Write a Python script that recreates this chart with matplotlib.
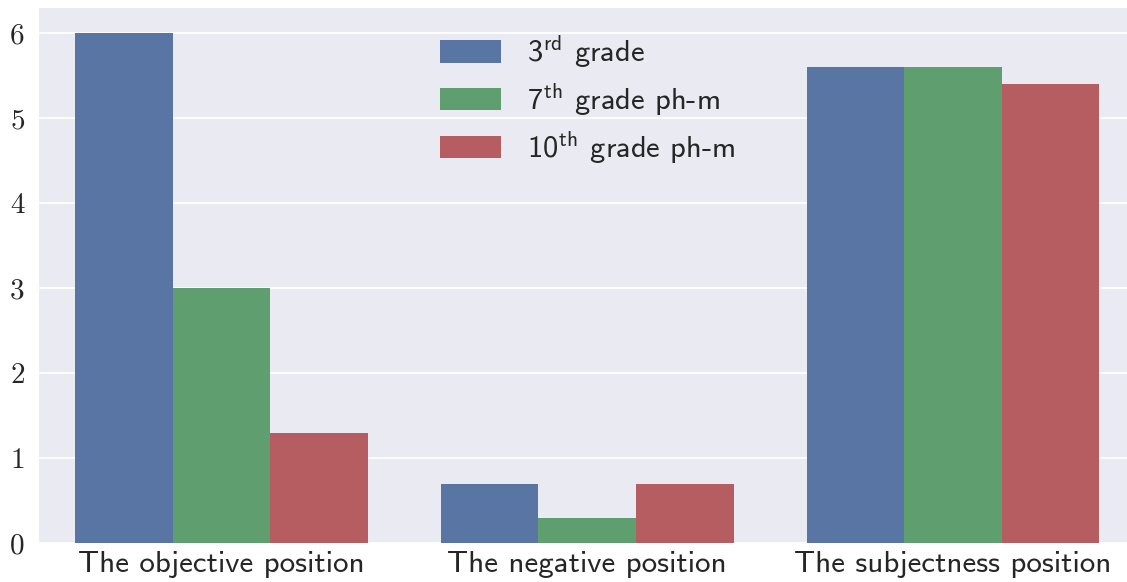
import matplotlib
matplotlib.use("Agg")
import matplotlib.pyplot as plt
import numpy as np

categories = ["The objective position", "The negative position", "The subjectness position"]
series_labels = ["3$^{\\mathsf{rd}}$ grade", "7$^{\\mathsf{th}}$ grade ph-m", "10$^{\\mathsf{th}}$ grade ph-m"]
grade3 = [6.0, 0.7, 5.6]
grade7 = [3.0, 0.3, 5.6]
grade10 = [1.3, 0.7, 5.4]
yticks = [0, 1, 2, 3, 4, 5, 6]

colors = ["#5875A4", "#5F9E6E", "#B55D60"]

plt.rcParams["mathtext.fontset"] = "cm"
plt.rcParams["font.family"] = ["cmss10", "DejaVu Sans"]

fig = plt.figure(figsize=(11.27, 5.82), dpi=100)
ax = fig.add_axes([38.75 / 1127, 1 - 543 / 582, 1097 / 1127, 535.5 / 582])
ax.set_facecolor("#EAEAF2")
for s in ax.spines.values():
    s.set_visible(False)
ax.set_axisbelow(True)
ax.yaxis.grid(True, color="white", linewidth=1.3)
ax.xaxis.grid(False)

x = np.arange(len(categories))
w = 0.8 / 3
for i, (vals, lab) in enumerate(zip([grade3, grade7, grade10], series_labels)):
    ax.bar(x + (i - 1) * w, vals, width=w, color=colors[i], label=lab, linewidth=0)

ax.set_xlim(-0.5, 2.5)
ax.set_ylim(0, 6.3)
ax.set_yticks(yticks)
ax.set_yticklabels([str(t) for t in yticks], fontfamily="cmr10", fontsize=21, color="#262626")
ax.set_xticks(x)
ax.set_xticklabels(categories, fontsize=22.3, color="#262626")
ax.tick_params(axis="both", length=0)
ax.tick_params(axis="y", pad=10)
ax.tick_params(axis="x", pad=6)

leg = ax.legend(loc="upper center", frameon=False, fontsize=22, handlelength=2.0,
                handleheight=0.75, labelspacing=0.35, handletextpad=0.85,
                borderaxespad=0.45)
for t in leg.get_texts():
    t.set_color("#262626")

fig.savefig("out.png", dpi=100)
